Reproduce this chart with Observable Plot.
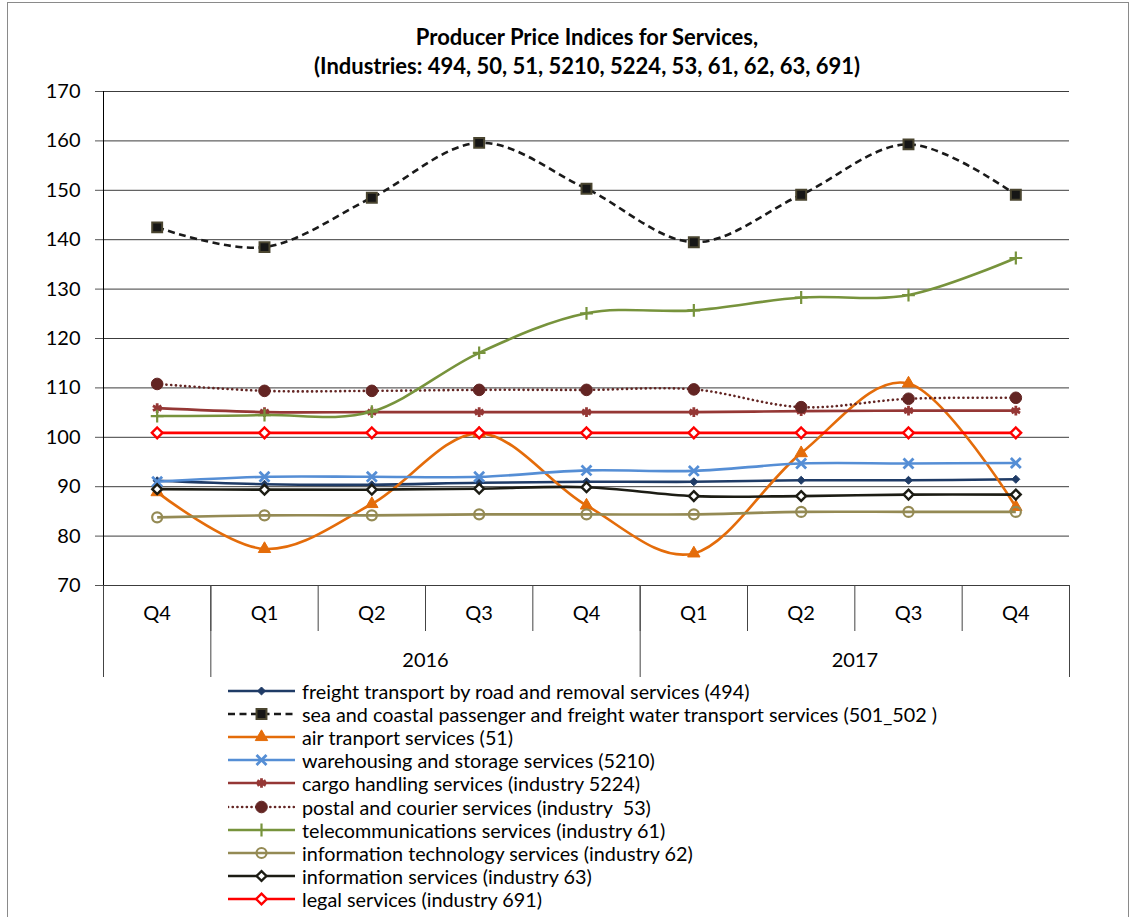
<!DOCTYPE html>
<html>
<head>
<meta charset="utf-8">
<script src="https://cdn.jsdelivr.net/npm/d3@7"></script>
<script src="https://cdn.jsdelivr.net/npm/@observablehq/plot@0.6"></script>
<style>
  html, body { margin: 0; padding: 0; background: #fff; }
  #wrap { position: relative; width: 1134px; height: 917px; overflow: hidden; font-family: Lato, "Open Sans", sans-serif; color: #000; }
  #border { position: absolute; left: 7px; top: 2px; width: 1122px; height: 960px; border: 1.5px solid #8a8a8a; box-sizing: border-box; }
  #title { position: absolute; left: 40px; width: 1094px; top: 22px; text-align: center; font-weight: bold; font-size: 22px; line-height: 29px; }
  #chart { position: absolute; left: 0; top: 80px; }
  #legend { position: absolute; left: 228px; top: 679px; font-size: 19.8px; }
  .row { display: flex; align-items: center; height: 23.2px; white-space: pre; }
  .row svg { flex: none; margin-right: 7px; }
</style>
</head>
<body>
<div id="wrap">
  <div id="border"></div>
  <div id="title">Producer Price Indices for Services,<br>(Industries: 494, 50, 51, 5210, 5224, 53, 61, 62, 63, 691)</div>
  <div id="chart"></div>
  <div id="legend"></div>
</div>
<script>
// ---- data ----
const quarters = ["Q4", "Q1", "Q2", "Q3", "Q4", "Q1", "Q2", "Q3", "Q4"];
const periodYear = ["", "2016", "2016", "2016", "2016", "2017", "2017", "2017", "2017"];
const yTicks = [70, 80, 90, 100, 110, 120, 130, 140, 150, 160, 170];

const seriesNames = [
  "freight transport by road and removal services (494)",
  "sea and coastal passenger and freight water transport services (501_502 )",
  "air tranport services (51)",
  "warehousing and storage services (5210)",
  "cargo handling services (industry 5224)",
  "postal and courier services (industry  53)",
  "telecommunications services (industry 61)",
  "information technology services (industry 62)",
  "information services (industry 63)",
  "legal services (industry 691)"
];

const freight   = [91.2, 90.5, 90.4, 90.8, 91.0, 91.0, 91.3, 91.3, 91.5];
const sea       = [142.5, 138.5, 148.5, 159.6, 150.3, 139.5, 149.1, 159.3, 149.1];
const air       = [88.9, 77.4, 86.5, 100.8, 86.2, 76.5, 96.8, 110.9, 85.9];
const warehouse = [91.0, 92.0, 92.0, 92.0, 93.3, 93.2, 94.7, 94.7, 94.8];
const cargo     = [105.9, 105.1, 105.1, 105.1, 105.1, 105.1, 105.3, 105.4, 105.4];
const postal    = [110.8, 109.4, 109.4, 109.6, 109.6, 109.7, 106.1, 107.8, 108.0];
const telecom   = [104.3, 104.5, 105.2, 117.1, 125.1, 125.7, 128.3, 128.8, 136.3];
const itServ    = [83.8, 84.2, 84.2, 84.4, 84.4, 84.4, 84.9, 84.9, 84.9];
const infoServ  = [89.5, 89.4, 89.4, 89.6, 89.9, 88.1, 88.1, 88.4, 88.4];
const legal     = [100.9, 100.9, 100.9, 100.9, 100.9, 100.9, 100.9, 100.9, 100.9];

const values = [freight, sea, air, warehouse, cargo, postal, telecom, itServ, infoServ, legal];

// ---- styles ----
const styles = [
  {stroke: "#1f3b66", width: 2.6, dash: null, symbol: "diamond2", r: 3.6, fill: "#1f3b66", mstroke: "#1f3b66", mw: 1},
  {stroke: "#1a1a1a", width: 2.6, dash: "7,4.5", symbol: "square", r: 5.6, fill: "#161616", mstroke: "#4a4530", mw: 2},
  {stroke: "#e46c0a", width: 2.6, dash: null, symbol: "triangle", r: 4.6, fill: "#e46c0a", mstroke: "#e46c0a", mw: 1},
  {stroke: "#558ed5", width: 2.6, dash: null, symbol: "times", r: 4.6, fill: "none", mstroke: "#558ed5", mw: 2.8},
  {stroke: "#953735", width: 2.6, dash: null, symbol: "asterisk", r: 4.6, fill: "none", mstroke: "#953735", mw: 2.8},
  {stroke: "#632523", width: 2.6, dash: "0.1,4.6", cap: "round", symbol: "circle", r: 5.8, fill: "#632523", mstroke: "#632523", mw: 1},
  {stroke: "#77933c", width: 2.6, dash: null, symbol: "plus", r: 4.2, fill: "none", mstroke: "#77933c", mw: 2.2},
  {stroke: "#948a54", width: 2.6, dash: null, symbol: "circle", r: 5, fill: "none", mstroke: "#948a54", mw: 2.2},
  {stroke: "#1c1c14", width: 2.6, dash: null, symbol: "diamond2", r: 4.4, fill: "#ffffff", mstroke: "#1c1c14", mw: 2.4},
  {stroke: "#ff0000", width: 2.6, dash: null, symbol: "diamond2", r: 4.8, fill: "#ffffff", mstroke: "#ff0000", mw: 2.4}
];

const n = quarters.length;
const rows = [];
values.forEach((arr, s) => arr.forEach((v, i) => rows.push({s, i, v})));

// category boundaries and centers
const boundaries = d3.range(n + 1);
const centers = d3.range(n).map(i => i + 0.5);
// year groups
const groups = [];
periodYear.forEach((y, i) => {
  const g = groups[groups.length - 1];
  if (g && g.year === y) g.end = i + 1; else groups.push({year: y, start: i, end: i + 1});
});
const groupEdges = Array.from(new Set(groups.flatMap(g => [g.start, g.end])));
const labeled = groups.filter(g => g.year !== "");

const marks = [
  Plot.ruleY(yTicks, {stroke: "#3c3c3c", strokeWidth: 1}),
  Plot.axisY({ticks: yTicks, tickSize: 8, tickPadding: 15, fontSize: 20, label: null, stroke: "#555"}),
  Plot.axisX({ticks: boundaries, tickSize: 46, tickFormat: () => "", label: null, stroke: "#444"}),
  Plot.axisX({ticks: groupEdges, tickSize: 92, tickFormat: () => "", label: null, stroke: "#444"}),
  Plot.axisX({ticks: centers, tickSize: 0, tickPadding: 20, fontSize: 20, label: null, tickFormat: d => quarters[Math.floor(d)]}),
  Plot.axisX({ticks: labeled.map(g => (g.start + g.end) / 2), tickSize: 0, tickPadding: 67, fontSize: 20, label: null,
    tickFormat: d => labeled.find(g => (g.start + g.end) / 2 === d).year}),
  Plot.ruleX([0], {stroke: "#000", strokeWidth: 1})
];

styles.forEach((st, s) => {
  const data = rows.filter(d => d.s === s);
  marks.push(Plot.line(data, {
    x: d => d.i + 0.5, y: "v", curve: "cardinal",
    stroke: st.stroke, strokeWidth: st.width,
    strokeDasharray: st.dash || undefined, strokeLinecap: st.cap || "butt"
  }));
  marks.push(Plot.dot(data, {
    x: d => d.i + 0.5, y: "v", symbol: () => st.symbol, r: st.r,
    fill: st.fill, stroke: st.mstroke, strokeWidth: st.mw
  }));
});

const chart = Plot.plot({
  width: 1134,
  height: 610,
  marginLeft: 103,
  marginRight: 65,
  marginTop: 11,
  marginBottom: 105,
  style: {fontFamily: "Lato, 'Open Sans', sans-serif", fontSize: "20px", color: "#000", background: "transparent", overflow: "visible"},
  x: {type: "linear", domain: [0, n]},
  y: {domain: [70, 170]},
  symbol: {type: "identity"},
  marks
});
document.getElementById("chart").appendChild(chart);

// ---- legend ----
const symMap = {
  diamond2: d3.symbolDiamond2, square: d3.symbolSquare, triangle: d3.symbolTriangle,
  times: d3.symbolTimes, asterisk: d3.symbolAsterisk, circle: d3.symbolCircle, plus: d3.symbolPlus
};
const legend = d3.select("#legend");
seriesNames.forEach((name, s) => {
  const st = styles[s];
  const row = legend.append("div").attr("class", "row");
  const svg = row.append("svg").attr("width", 67).attr("height", 16);
  svg.append("line").attr("x1", 0).attr("x2", 67).attr("y1", 8).attr("y2", 8)
    .attr("stroke", st.stroke).attr("stroke-width", st.width)
    .attr("stroke-dasharray", st.dash).attr("stroke-linecap", st.cap || "butt");
  svg.append("path").attr("transform", "translate(33.5,8)")
    .attr("d", d3.symbol(symMap[st.symbol], Math.PI * st.r * st.r)())
    .attr("fill", st.fill).attr("stroke", st.mstroke).attr("stroke-width", st.mw);
  row.append("span").text(name);
});
</script>
</body>
</html>
